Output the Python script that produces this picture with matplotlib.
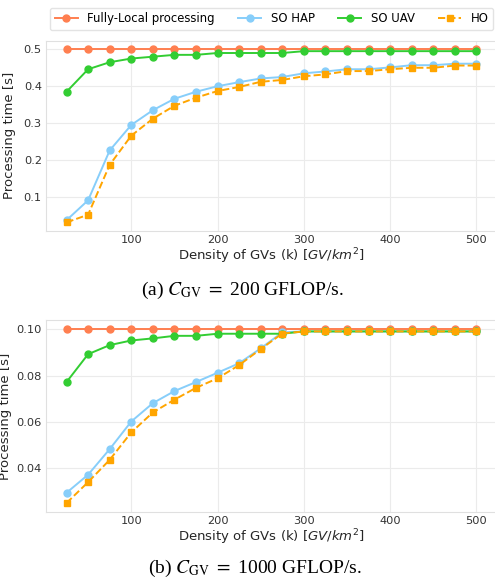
import matplotlib
matplotlib.use('Agg')
import matplotlib.pyplot as plt

# density of GVs (k)
densidad = [25, 50, 75, 100, 125, 150, 175, 200, 225, 250,
            275, 300, 325, 350, 375, 400, 425, 450, 475, 500]

# (a) C_GV = 200 GFLOP/s
local_a = [0.5] * 20
so_hap_a = [0.037, 0.091, 0.226, 0.295, 0.335, 0.366, 0.385, 0.400, 0.411, 0.421,
            0.425, 0.435, 0.440, 0.446, 0.446, 0.451, 0.457, 0.457, 0.461, 0.461]
so_uav_a = [0.385, 0.446, 0.465, 0.475, 0.480, 0.485, 0.485, 0.490, 0.490, 0.490,
            0.490, 0.495, 0.495, 0.495, 0.495, 0.495, 0.495, 0.495, 0.495, 0.495]
ho_a = [0.031, 0.052, 0.187, 0.266, 0.312, 0.347, 0.369, 0.387, 0.398, 0.412,
        0.417, 0.427, 0.432, 0.441, 0.441, 0.446, 0.450, 0.450, 0.456, 0.456]

# (b) C_GV = 1000 GFLOP/s
local_b = [0.1] * 20
so_hap_b = [0.0295, 0.0373, 0.0483, 0.0602, 0.0681, 0.0733, 0.0772, 0.0812, 0.0853, 0.0917,
            0.0986, 0.099, 0.099, 0.099, 0.099, 0.099, 0.099, 0.099, 0.099, 0.099]
so_uav_b = [0.0772, 0.0892, 0.0931, 0.0951, 0.0960, 0.0971, 0.0971, 0.0980, 0.0980, 0.0980,
            0.0980, 0.099, 0.099, 0.099, 0.099, 0.099, 0.099, 0.099, 0.099, 0.099]
ho_b = [0.0251, 0.0341, 0.0437, 0.0555, 0.0641, 0.0696, 0.0747, 0.0788, 0.0845, 0.0914,
        0.0981, 0.099, 0.099, 0.099, 0.099, 0.099, 0.099, 0.099, 0.099, 0.099]

plt.rcParams['font.family'] = ['DejaVu Sans']
plt.rcParams['mathtext.fontset'] = 'dejavusans'

fig = plt.figure(figsize=(4.95, 5.85), dpi=100)
ax1 = fig.add_axes([0.093, 0.605, 0.911, 0.3255])
ax2 = fig.add_axes([0.093, 0.1253, 0.911, 0.327])

def dibujar(ax, local, hap, uav, ho):
    ax.plot(densidad, local, color='coral', marker='o', markersize=5, lw=1.4, label='Fully-Local processing')
    ax.plot(densidad, hap, color='lightskyblue', marker='o', markersize=5, lw=1.4, label='SO HAP')
    ax.plot(densidad, uav, color='limegreen', marker='o', markersize=5, lw=1.4, label='SO UAV')
    ax.plot(densidad, ho, color='orange', marker='s', markersize=5, lw=1.4, ls='--', label='HO')
    ax.grid(True, color='#ebebeb', lw=0.8)
    ax.set_axisbelow(True)
    for s in ax.spines.values():
        s.set_color('#e0e0e0')
    ax.tick_params(length=0, labelsize=8.2, colors='#333333', pad=3)
    ax.set_xticks([100, 200, 300, 400, 500])
    ax.set_xlabel('Density of GVs (k) [$GV/km^2$]', fontsize=9.5, color='#262626', labelpad=1)
    ax.set_ylabel('Processing time [s]', fontsize=9.5, color='#262626')

dibujar(ax1, local_a, so_hap_a, so_uav_a, ho_a)
dibujar(ax2, local_b, so_hap_b, so_uav_b, ho_b)
ax1.set_yticks([0.1, 0.2, 0.3, 0.4, 0.5])
ax2.set_yticks([0.04, 0.06, 0.08, 0.10])
ax1.yaxis.set_label_coords(-0.066, 0.5)
ax2.yaxis.set_label_coords(-0.076, 0.5)

h, l = ax1.get_legend_handles_labels()
fig.legend(h, l, loc='upper left', bbox_to_anchor=(0.089, 0.997), ncol=4,
           fontsize=8.4, frameon=True, edgecolor='#dddddd', fancybox=True,
           columnspacing=2.0)

fig.text(0.49, 1 - 290 / 585, '(a) $C_{\\mathrm{GV}}\\ =\\ $200 GFLOP/s.', ha='center', va='center',
         fontsize=14, family='Liberation Serif', math_fontfamily='stix')
fig.text(0.515, 1 - 568 / 585, '(b) $C_{\\mathrm{GV}}\\ =\\ $1000 GFLOP/s.', ha='center', va='center',
         fontsize=14, family='Liberation Serif', math_fontfamily='stix')

fig.savefig('out.png', dpi=100)
